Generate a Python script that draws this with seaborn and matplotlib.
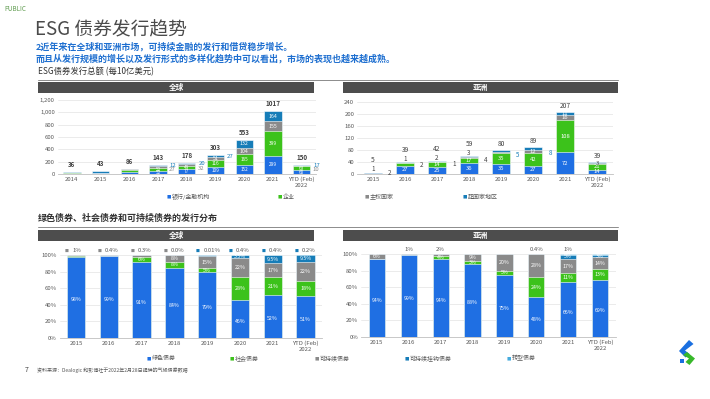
"""
ESG 债券发行趋势 - 幻灯片复刻
"""

import numpy as np
import pandas as pd
import matplotlib.pyplot as plt
import seaborn as sns
from matplotlib.patches import Rectangle, Polygon
from matplotlib.lines import Line2D

sns.set_theme(style='white')
plt.rcParams['font.family'] = ['Noto Sans CJK SC', 'DejaVu Sans']

W, H = 710, 399

# ---- 数据：ESG债券发行总额 (十亿美元) ----
years_g = ['2014', '2015', '2016', '2017', '2018', '2019', '2020', '2021', 'YTD (Feb)\n2022']
g_bank = [8, 10, 33, 52, 77, 109, 152, 299, 60]
g_corp = [3, 5, 35, 52, 49, 116, 165, 399, 63]
g_sov = [2, 3, 6, 27, 32, 51, 104, 155, 10]
g_supra = [23, 25, 12, 12, 20, 27, 132, 164, 17]
g_total = [36, 43, 86, 143, 178, 303, 553, 1017, 150]

years_a = ['2015', '2016', '2017', '2018', '2019', '2020', '2021', 'YTD (Feb)\n2022']
a_bank = [2, 27, 25, 36, 35, 27, 72, 14]
a_corp = [0, 9, 14, 17, 35, 42, 108, 21]
a_sov = [1, 1, 2, 3, 5, 12, 16, 3]
a_supra = [2, 2, 1, 4, 5, 8, 11, 1]
a_total = [5, 39, 42, 59, 80, 89, 207, 39]

issuer_names = ['银行/金融机构', '企业', '主权国家', '超国家地区']

# ---- 数据：发行分布 (%) ----
years_p = ['2015', '2016', '2017', '2018', '2019', '2020', '2021', 'YTD (Feb)\n2022']
pg_green = [98, 99, 91, 84, 79, 46, 52, 51]
pg_social = [1, 0, 6, 8, 5, 28, 21, 18]
pg_sust = [1, 1, 3, 8, 15, 22, 17, 22]
pg_slb = [0, 0, 0, 0, 1, 3.5, 9.5, 9.5]
pg_trans = [0, 0, 0, 0, 0.01, 0.4, 0.4, 0.2]
pg_top = ['1%', '0.4%', '0.3%', '0.0%', '0.01%', '0.4%', '0.4%', '0.2%']

pa_green = [94, 99, 94, 88, 75, 48, 66, 69]
pa_social = [0, 0, 4, 3, 5, 24, 11, 13]
pa_sust = [6, 1, 2, 9, 20, 28, 17, 14]
pa_slb = [0, 0, 0, 0, 0, 0, 5, 3]
pa_trans = [0, 0, 0, 0, 0, 0.4, 1, 1]
pa_top = ['', '1%', '2%', '', '', '0.4%', '1%', '']

bond_names = ['绿色债券', '社会债券', '可持续债券', '可持续挂钩债券', '转型债券']

# 颜色
BLUE = '#1F6FE3'
GREEN = '#3CC21B'
GRAY = '#8A8A8A'
TEAL = '#177DB8'
LTEAL = '#45ABDD'
DARK = '#404040'
TXT = '#595959'

fig = plt.figure(figsize=(W / 100, H / 100), dpi=100)
fig.patch.set_facecolor('white')


def fx(px):
    return px / W


def fy(py):
    return 1 - py / H


def axes_px(l, t, r, b):
    return fig.add_axes([fx(l), fy(b), (r - l) / W, (b - t) / H])


def stacked(ax, cats, layers, colors, width):
    cum = np.cumsum(np.array(layers, dtype=float), axis=0)
    # 从上往下画累计值，下层盖住上层
    for k in range(len(layers) - 1, -1, -1):
        sns.barplot(x=cats, y=cum[k], color=colors[k], saturation=1, width=width,
                    edgecolor='white', linewidth=0.4, errorbar=None, ax=ax, zorder=2)
    return cum


def style_axes(ax, n, yticks, fmt):
    ax.set_xlim(-0.5, n - 0.5)
    ax.set_ylim(yticks[0], yticks[-1])
    ax.set_yticks(yticks)
    ax.set_yticklabels([fmt(v) for v in yticks])
    ax.grid(axis='y', color='#E3E3E3', lw=0.5)
    ax.grid(axis='x', visible=False)
    ax.set_axisbelow(True)
    for s in ['top', 'right', 'left']:
        ax.spines[s].set_visible(False)
    ax.spines['bottom'].set_color('#BFBFBF')
    ax.spines['bottom'].set_linewidth(0.6)
    ax.tick_params(axis='both', length=0, labelsize=4.3, colors=TXT, pad=2)
    ax.set_xlabel('')
    ax.set_ylabel('')
    ax.set_facecolor('white')


def inside(ax, x, y, s, color='white', fs=3.8):
    ax.text(x, y, s, ha='center', va='center', fontsize=fs, color=color, zorder=5)


# ---------------- 全球 发行总额 ----------------
ax1 = axes_px(57.6, 100, 316, 174)
g_layers = [g_bank, g_corp, g_sov, g_supra]
cum = stacked(ax1, years_g, g_layers, [BLUE, GREEN, GRAY, TEAL], 0.6)
style_axes(ax1, len(years_g), [0, 200, 400, 600, 800, 1000, 1200], lambda v: f'{v:,.0f}')
for i, tot in enumerate(g_total):
    ax1.annotate(str(tot), (i, cum[-1][i]), xytext=(0, 3), textcoords='offset points',
                 ha='center', va='bottom', fontsize=4.5, fontweight='bold', color=DARK)
    if i < 3:
        continue
    for k, vals in enumerate(g_layers):
        v = vals[i]
        mid = cum[k][i] - v / 2
        if k < 2:
            inside(ax1, i, mid, str(v), fs=3.4)
        elif k == 2:
            if v >= 50:
                inside(ax1, i, mid, str(v))
            else:
                ax1.text(i + 0.5, tot * 0.5, str(v), fontsize=4.3, color=GRAY, va='center', ha='center')
        else:
            if v >= 100:
                inside(ax1, i, mid, str(v))
            else:
                ax1.text(i + 0.52, tot * 0.95, str(v), fontsize=4.3, color=TEAL, va='center', ha='center')

# ---------------- 亚洲 发行总额 ----------------
ax2 = axes_px(357, 102, 613, 174)
a_layers = [a_bank, a_corp, a_sov, a_supra]
cum = stacked(ax2, years_a, a_layers, [BLUE, GREEN, GRAY, TEAL], 0.55)
style_axes(ax2, len(years_a), [0, 40, 80, 120, 160, 200, 240], lambda v: f'{v:.0f}')
for i, tot in enumerate(a_total):
    above = i < 4
    ax2.annotate(str(tot), (i, cum[-1][i]), xytext=(0, 9 if above else 4.5),
                 textcoords='offset points', ha='center', va='center', fontsize=4.8, color=DARK)
    for k, vals in enumerate(a_layers):
        v = vals[i]
        mid = cum[k][i] - v / 2
        if k < 2:
            if v >= 10:
                inside(ax2, i, mid, str(v), fs=4.2)
        elif k == 2:
            if above:
                ax2.annotate(str(v), (i, cum[-1][i]), xytext=(0, 2.5), textcoords='offset points',
                             ha='center', va='center', fontsize=4.5, color=DARK)
            elif v >= 10:
                inside(ax2, i, mid, str(v), fs=4.2)
            elif i == len(a_total) - 1:
                inside(ax2, i, mid, str(v), color=DARK, fs=4.2)
        else:
            if v >= 10:
                inside(ax2, i, mid, str(v), fs=4.2)
            elif i < len(a_total) - 1:
                ax2.text(i + 0.53, max(tot * 0.8, 3), str(v), fontsize=4.5,
                         color=TEAL if v >= 5 else DARK, va='center', ha='center')

# ---------------- 发行分布 (%) ----------------
def pct_chart(ax, cats, layers, tops, width, glob):
    colors = [BLUE, GREEN, GRAY, TEAL, LTEAL]
    cum = stacked(ax, cats, layers, colors, width)
    style_axes(ax, len(cats), [0, 20, 40, 60, 80, 100], lambda v: f'{v:.0f}%')
    for i in range(len(cats)):
        for k in range(4):
            v = layers[k][i]
            mid = cum[k][i] - v / 2
            if k == 0 or v >= 3 and not (k == 2 and v < 5):
                s = f'{v:g}%'
                inside(ax, i, mid if k else mid - 3, s, fs=3.8)
        t = tops[i]
        if not t:
            continue
        if glob:
            mcol = TEAL if i >= 4 else GRAY
            ax.text(i - 0.28, 105, '■', fontsize=2.8, color=mcol, ha='center', va='center', clip_on=False)
            ax.text(i - 0.12, 105, t, fontsize=4.3, color=TXT, ha='left', va='center', clip_on=False)
        else:
            ax.text(i, 105, t, fontsize=4.3, color=TXT, ha='center', va='center', clip_on=False)


ax3 = axes_px(59.6, 255, 322, 338)
pct_chart(ax3, years_p, [pg_green, pg_social, pg_sust, pg_slb, pg_trans], pg_top, 0.56, True)

ax4 = axes_px(361, 254, 616, 337)
pct_chart(ax4, years_p, [pa_green, pa_social, pa_sust, pa_slb, pa_trans], pa_top, 0.51, False)

# ---------------- 标题与装饰 ----------------
fig.text(fx(4), fy(9), 'PUBLIC', fontsize=4.5, color='#5E9B4E', va='center', ha='left')
fig.text(fx(35), fy(30), 'ESG 债券发行趋势', fontsize=13.5, color='#4A4A4A', va='center', ha='left',
         fontweight='medium')
fig.text(fx(36), fy(47), '2近年来在全球和亚洲市场，可持续金融的发行和借贷稳步增长。',
         fontsize=6.5, color='#1E6FD0', fontweight='bold', va='center', ha='left')
fig.text(fx(36), fy(58.5), '而且从发行规模的增长以及发行形式的多样化趋势中可以看出，市场的表现也越来越成熟。',
         fontsize=6.5, color='#1E6FD0', fontweight='bold', va='center', ha='left')
fig.text(fx(38), fy(72), 'ESG债券发行总额 (每10亿美元)', fontsize=6, color='#333333', va='center', ha='left')
fig.text(fx(38), fy(218), '绿色债券、社会债券和可持续债券的发行分布', fontsize=6.5, color='#333333',
         fontweight='bold', va='center', ha='left')

for yline in (79.5, 227):
    fig.add_artist(Line2D([fx(38), fx(618)], [fy(yline), fy(yline)], color='#8C8C8C', lw=0.7))

for (l, r, t, b, name) in [(38, 314, 82, 93, '全球'), (343, 618, 82, 93, '亚洲'),
                           (38, 314, 230, 241, '全球'), (343, 618, 230, 241, '亚洲')]:
    fig.add_artist(Rectangle((fx(l), fy(b)), (r - l) / W, (b - t) / H, color='#4D4D4D', lw=0))
    fig.text(fx((l + r) / 2), fy((t + b) / 2), name, fontsize=5.5, color='white', fontweight='bold',
             ha='center', va='center')


def legend_item(xp, yp, color, label):
    fig.text(fx(xp), fy(yp), '■', fontsize=3.2, color=color, ha='left', va='center')
    fig.text(fx(xp + 4.5), fy(yp), label, fontsize=4.3, color=TXT, ha='left', va='center')


for xp, c, lab in zip([167, 278, 365, 463], [BLUE, GREEN, GRAY, TEAL], issuer_names):
    legend_item(xp, 197, c, lab)
for xp, c, lab in zip([147, 230, 315, 405, 507], [BLUE, GREEN, GRAY, TEAL, LTEAL], bond_names):
    legend_item(xp, 358.5, c, lab)

fig.text(fx(25), fy(370), '7', fontsize=5, color='#404040', ha='left', va='center')
fig.text(fx(37), fy(370), '资料来源：Dealogic 和彭博社于2022年2月28日提供的气候债券数据',
         fontsize=3.6, color=TXT, ha='left', va='center')

# 标志
def poly(pts, color):
    fig.add_artist(Polygon([(fx(x), fy(y)) for x, y in pts], closed=True, color=color, lw=0))


poly([(689, 340), (693.5, 344), (685, 350.5), (689.5, 354), (685.5, 357.5), (679, 351)], '#1A6FE0')
poly([(683, 355), (687, 352), (695, 358.5), (689.5, 365), (685.5, 362), (689, 358.5)], '#38B82A')
poly([(680, 359), (683.5, 359), (683.5, 362.5), (680, 362.5)], '#1A6FE0')

fig.savefig('out.png', dpi=100, facecolor='white')
